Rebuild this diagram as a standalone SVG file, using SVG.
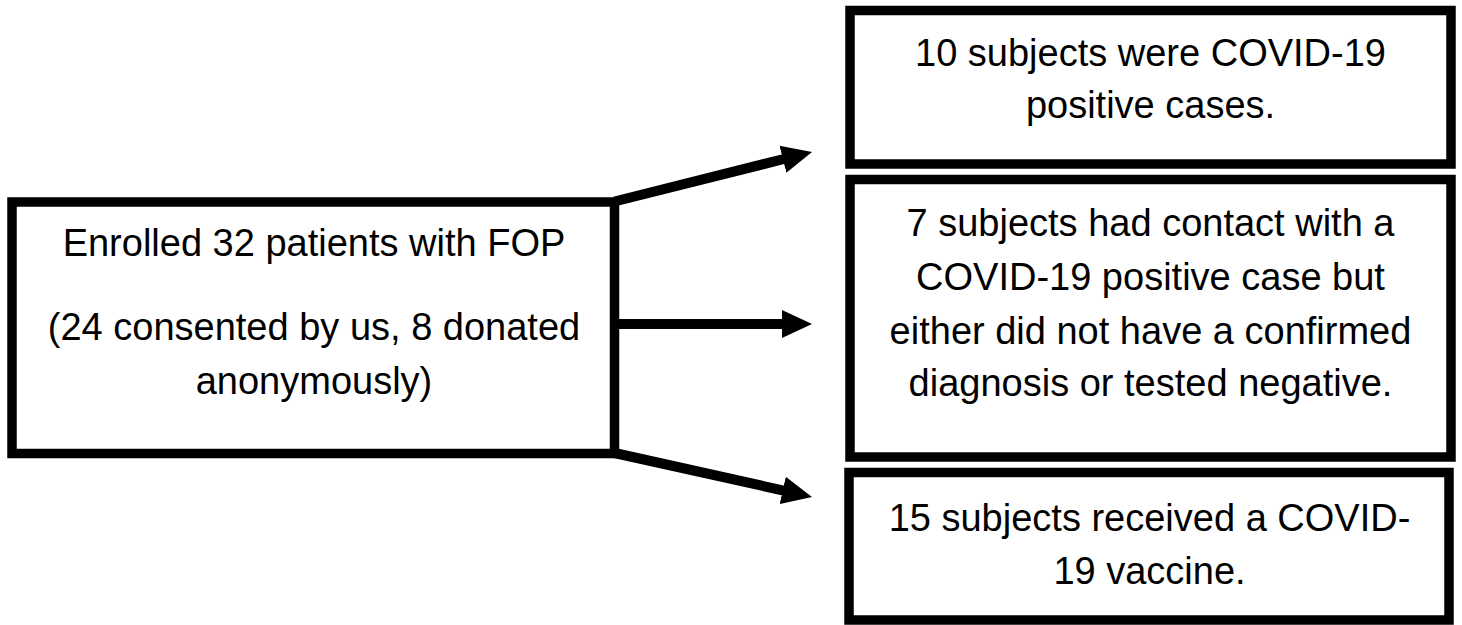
<svg xmlns="http://www.w3.org/2000/svg" width="1462" height="625" viewBox="0 0 1462 625">
  <style>
    .box { fill: #ffffff; stroke: #000000; stroke-width: 9.5; }
    .lbl { font-family: "Liberation Sans", Arial, sans-serif; font-size: 38px; fill: #000000; text-anchor: middle; }
    .conn { fill: none; stroke: #000000; stroke-width: 10; }
  </style>
  <defs>
    <marker id="arrow" markerUnits="userSpaceOnUse" markerWidth="31" markerHeight="30" refX="1" refY="14" orient="auto" viewBox="0 0 31 28">
      <path d="M0,0 L30,14 L0,28 z" fill="#000000"/>
    </marker>
  </defs>
  <rect width="1462" height="625" fill="#ffffff"/>

  <g id="connectors">
    <path class="conn" d="M614.5,201.5 L783.9,159.0" marker-end="url(#arrow)"/>
    <path class="conn" d="M614.5,324 L783,324" marker-end="url(#arrow)"/>
    <path class="conn" d="M614.5,453 L783.7,490.6" marker-end="url(#arrow)"/>
  </g>

  <g id="node-enrolled">
    <rect class="box" x="12" y="202" width="602.5" height="251.5"/>
    <text class="lbl" x="314" y="256">Enrolled 32 patients with FOP</text>
    <text class="lbl" x="314" y="340">(24 consented by us, 8 donated</text>
    <text class="lbl" x="314" y="394">anonymously)</text>
  </g>

  <g id="node-positive">
    <rect class="box" x="850" y="10.5" width="601" height="153.5"/>
    <text class="lbl" x="1150.5" y="66">10 subjects were COVID-19</text>
    <text class="lbl" x="1150.5" y="118">positive cases.</text>
  </g>

  <g id="node-contact">
    <rect class="box" x="850" y="179.5" width="601" height="277.5"/>
    <text class="lbl" x="1150.5" y="236">7 subjects had contact with a</text>
    <text class="lbl" x="1150.5" y="290">COVID-19 positive case but</text>
    <text class="lbl" x="1150.5" y="344">either did not have a confirmed</text>
    <text class="lbl" x="1150.5" y="396">diagnosis or tested negative.</text>
  </g>

  <g id="node-vaccine">
    <rect class="box" x="849" y="472.5" width="600" height="147.5"/>
    <text class="lbl" x="1149.5" y="531">15 subjects received a COVID-</text>
    <text class="lbl" x="1149.5" y="584">19 vaccine.</text>
  </g>
</svg>
